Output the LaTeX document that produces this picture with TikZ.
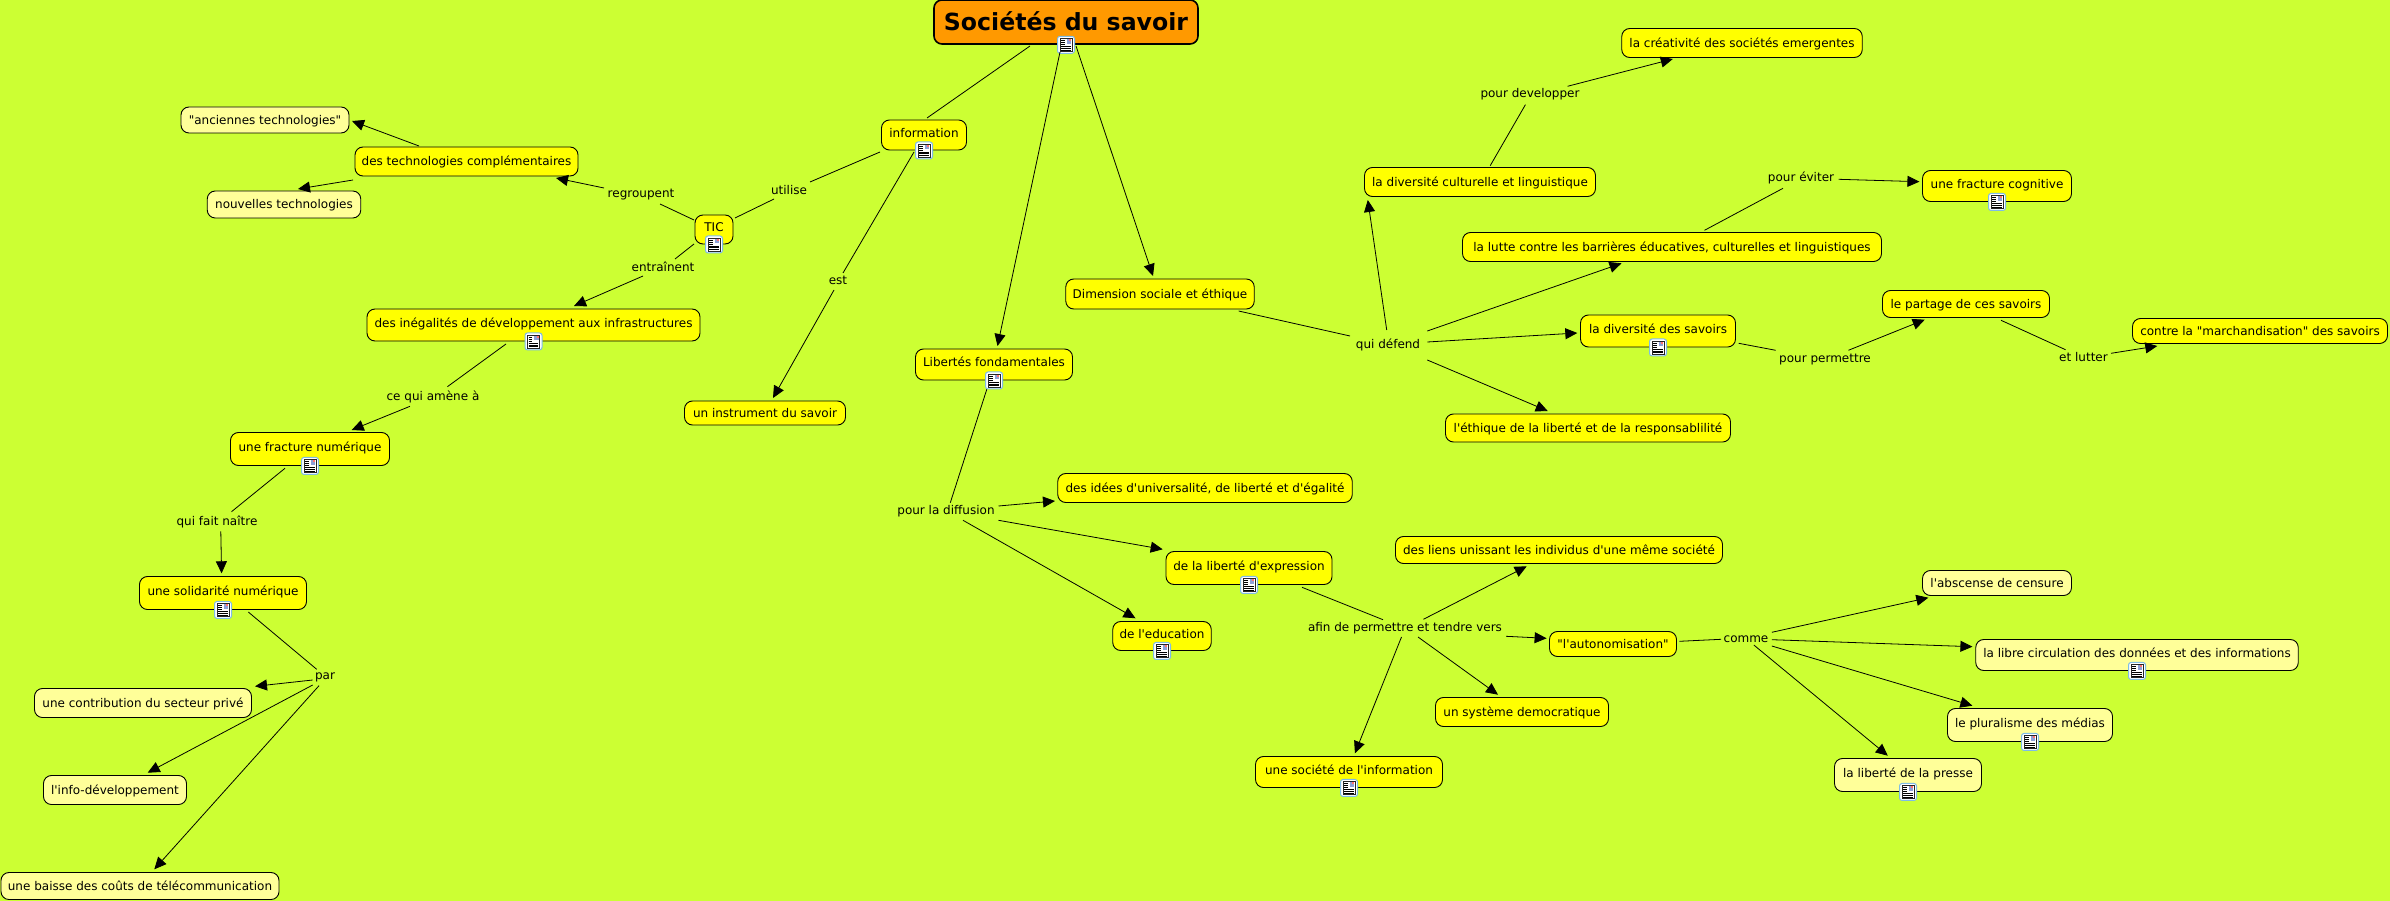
\documentclass[tikz,border=0pt]{standalone}
\usepackage{fontspec}
\setmainfont{DejaVu Sans}[Ligatures=TeXOff]
\usetikzlibrary{arrows.meta}
\definecolor{bgcol}{HTML}{CCFF33}
\definecolor{rootcol}{HTML}{FF9900}
\definecolor{conccol}{HTML}{FFFF00}
\definecolor{palecol}{HTML}{FFFF99}
\definecolor{iconblue}{HTML}{7FBCE6}
\definecolor{iconpic}{HTML}{8FA0D8}
\begin{document}
\begin{tikzpicture}[x=1pt,y=-1pt,>={Triangle[length=12pt,width=11pt]},
 txt/.style={inner sep=0pt,font=\fontsize{12}{14}\selectfont,text height=11pt,text depth=2pt},
 lab/.style={txt,text depth=1pt},
 cbox/.style 2 args={txt,draw=black,fill=conccol,line width=0.9pt,rounded corners=2.8mm,minimum width=#1pt,minimum height=#2pt},
 pbox/.style 2 args={cbox={#1}{#2},fill=palecol},
 doc/.style={text depth=6.5pt},
 lnk/.style={line width=0.8pt},
 arr/.style={lnk,->},
 docicon/.pic={
  \draw[fill=white,draw=iconblue,line width=1pt,rounded corners=2.5pt] (-8.5,-8.5) rectangle (8.5,8.5);
  \draw[fill=white,draw=black!85,line width=0.6pt] (-6,-6.5) rectangle (6,6.5);
  \fill[iconpic] (0.5,-5.5) rectangle (5,-1);
  \fill[red!55] (3,-5.5) rectangle (5,-3.5);
  \foreach \ly in {-4.5,-2.5,-0.5}{\draw[line width=0.5pt] (-4.8,\ly) -- (-1.5,\ly);}
  \foreach \ly in {1.5,3.3,5}{\draw[line width=0.5pt] (-4.8,\ly) -- (4.8,\ly);}
 }]
\useasboundingbox (0,0) rectangle (2390,901);
\fill[bgcol] (0,0) rectangle (2390,901);

\node[cbox={264}{44},fill=rootcol,line width=1.6pt,font=\fontsize{23.6}{28}\bfseries\selectfont,text height=18pt,text depth=0pt] (soc) at (1066,22) {Sociétés du savoir};

% left branch
\node[cbox={85}{30},doc] (info) at (924,135) {information};
\node[lab] (utilise) at (789,190) {utilise};
\node[cbox={38}{29},doc] (tic) at (714,229.5) {TIC};
\node[lab] (regroupent) at (641,193) {regroupent};
\node[cbox={223}{29}] (techcomp) at (466.5,161.5) {des technologies complémentaires};
\node[pbox={168}{26}] (anciennes) at (265,120) {"anciennes technologies"};
\node[pbox={153.5}{27}] (nouvelles) at (284,204.5) {nouvelles technologies};
\node[lab] (entrainent) at (663,267) {entraînent};
\node[cbox={333}{32},doc] (inegal) at (533.5,325) {des inégalités de développement aux infrastructures};
\node[lab] (cequi) at (433,395) {ce qui amène à};
\node[cbox={159}{33},doc] (fracnum) at (310,449) {une fracture numérique};
\node[lab] (quifait) at (217,520) {qui fait naître};
\node[cbox={167}{33},doc] (solidar) at (223,593) {une solidarité numérique};
\node[lab] (par) at (325,674) {par};
\node[pbox={217}{29}] (contrib) at (143,703) {une contribution du secteur privé};
\node[pbox={143}{29}] (infodev) at (115,790) {l'info-développement};
\node[pbox={278}{27}] (baisse) at (140,886) {une baisse des coûts de télécommunication};
\node[lab] (est) at (838,280) {est};
\node[cbox={161}{24}] (instrum) at (765,413) {un instrument du savoir};

% middle branch
\node[cbox={157}{31},doc] (libertes) at (994,364.5) {Libertés fondamentales};
\node[lab] (diffusion) at (946,509) {pour la diffusion};
\node[cbox={294.5}{29}] (idees) at (1205,488) {des idées d'universalité, de liberté et d'égalité};
\node[cbox={166}{33},doc] (expression) at (1249,568) {de la liberté d'expression};
\node[cbox={98.5}{29},doc] (education) at (1162,636) {de l'education};
\node[lab] (afin) at (1405,626) {afin de permettre et tendre vers};
\node[cbox={327}{27}] (liens) at (1559,550) {des liens unissant les individus d'une même société};
\node[cbox={127}{25}] (autonom) at (1613,644) {"l'autonomisation"};
\node[cbox={173}{29}] (systeme) at (1522,712) {un système democratique};
\node[cbox={187}{31},doc] (societe) at (1349,772) {une société de l'information};
\node[lab] (comme) at (1746,637) {comme};
\node[pbox={149}{25}] (abscense) at (1997,583) {l'abscense de censure};
\node[pbox={322.5}{31},doc] (libre) at (2137,655) {la libre circulation des données et des informations};
\node[pbox={165}{33},doc] (pluralisme) at (2030,725) {le pluralisme des médias};
\node[pbox={147}{33},doc] (presse) at (1908,775) {la liberté de la presse};

% right branch
\node[cbox={188.5}{30}] (dimension) at (1160,294) {Dimension sociale et éthique};
\node[lab] (defend) at (1388,343) {qui défend};
\node[cbox={231}{29}] (divcult) at (1480,182) {la diversité culturelle et linguistique};
\node[lab] (developper) at (1530,93) {pour developper};
\node[cbox={240.5}{29}] (creativite) at (1742,43) {la créativité des sociétés emergentes};
\node[cbox={419}{29}] (lutte) at (1672,247) {la lutte contre les barrières éducatives, culturelles et linguistiques};
\node[lab] (eviter) at (1801,177) {pour éviter};
\node[cbox={149}{31},doc] (cognitive) at (1997,186) {une fracture cognitive};
\node[cbox={155}{32},doc] (divsav) at (1658,331) {la diversité des savoirs};
\node[cbox={285}{28}] (ethique) at (1588,428) {l'éthique de la liberté et de la responsablilité};
\node[lab] (permettre) at (1825,357) {pour permettre};
\node[cbox={167}{27}] (partage) at (1966,304) {le partage de ces savoirs};
\node[lab] (lutter) at (2083.5,356) {et lutter};
\node[cbox={255}{25}] (marchand) at (2260,331) {contre la "marchandisation" des savoirs};

\foreach \n in {soc,info,tic,inegal,fracnum,solidar,libertes,expression,education,societe,libre,pluralisme,presse,cognitive,divsav}{
 \pic at (\n.south) {docicon};
}

\draw[lnk] ([shift={(-36,24)}]soc.center) -- ([shift={(3,-17)}]info.center);
\draw[arr] ([shift={(-6,30)}]soc.center) -- ([shift={(3.5,-18.5)}]libertes.center);
\draw[arr] ([shift={(10,24)}]soc.center) -- ([shift={(-7,-18)}]dimension.center);
\draw[lnk] ([shift={(-44,17)}]info.center) -- ([shift={(21,-8)}]utilise.center);
\draw[lnk] ([shift={(-15,9)}]utilise.center) -- ([shift={(21,-11.5)}]tic.center);
\draw[lnk] ([shift={(-20,-9.5)}]tic.center) -- ([shift={(19,11)}]regroupent.center);
\draw[arr] ([shift={(-37,-5)}]regroupent.center) -- ([shift={(89.5,16.5)}]techcomp.center);
\draw[arr] ([shift={(-47.5,-15.5)}]techcomp.center) -- ([shift={(87,1)}]anciennes.center);
\draw[arr] ([shift={(-113.5,18.5)}]techcomp.center) -- ([shift={(14,-15.5)}]nouvelles.center);
\draw[lnk] ([shift={(-20,14.5)}]tic.center) -- ([shift={(12,-8)}]entrainent.center);
\draw[arr] ([shift={(-20,9)}]entrainent.center) -- ([shift={(40.5,-19)}]inegal.center);
\draw[lnk] ([shift={(-27.5,19)}]inegal.center) -- ([shift={(14.4,-8.3)}]cequi.center);
\draw[arr] ([shift={(-23,11.3)}]cequi.center) -- ([shift={(41.7,-19)}]fracnum.center);
\draw[lnk] ([shift={(-25,19.3)}]fracnum.center) -- ([shift={(14.5,-8.3)}]quifait.center);
\draw[arr] ([shift={(3.8,11.3)}]quifait.center) -- ([shift={(-1.4,-19.7)}]solidar.center);
\draw[lnk] ([shift={(25.3,19)}]solidar.center) -- ([shift={(-8.3,-4.7)}]par.center);
\draw[arr] ([shift={(-12.3,6)}]par.center) -- ([shift={(112,-16.7)}]contrib.center);
\draw[arr] ([shift={(-12.3,11)}]par.center) -- ([shift={(32.7,-17.3)}]infodev.center);
\draw[arr] ([shift={(-6,11.7)}]par.center) -- ([shift={(14.3,-16.7)}]baisse.center);
\draw[lnk] ([shift={(-10,17)}]info.center) -- ([shift={(5,-7)}]est.center);
\draw[arr] ([shift={(-4,10)}]est.center) -- ([shift={(8,-15)}]instrum.center);
\draw[lnk] ([shift={(-7.2,24.8)}]libertes.center) -- ([shift={(4.3,-6.3)}]diffusion.center);
\draw[arr] ([shift={(52.5,-3)}]diffusion.center) -- ([shift={(-150,13)}]idees.center);
\draw[arr] ([shift={(52.5,11.3)}]diffusion.center) -- ([shift={(-86.3,-18.7)}]expression.center);
\draw[arr] ([shift={(17,11.3)}]diffusion.center) -- ([shift={(-26.5,-17.7)}]education.center);
\draw[lnk] ([shift={(53,19.3)}]expression.center) -- ([shift={(-22,-6.3)}]afin.center);
\draw[arr] ([shift={(18.4,-6.7)}]afin.center) -- ([shift={(-32.3,16.3)}]liens.center);
\draw[arr] ([shift={(101,10.3)}]afin.center) -- ([shift={(-66.4,-5.7)}]autonom.center);
\draw[arr] ([shift={(13,11)}]afin.center) -- ([shift={(-24,-17.3)}]systeme.center);
\draw[arr] ([shift={(-3.5,11)}]afin.center) -- ([shift={(5.9,-18.7)}]societe.center);
\draw[lnk] ([shift={(66.4,-2.7)}]autonom.center) -- ([shift={(-25,2.3)}]comme.center);
\draw[arr] ([shift={(25.8,-4.7)}]comme.center) -- ([shift={(-68.7,14.7)}]abscense.center);
\draw[arr] ([shift={(25.8,2.7)}]comme.center) -- ([shift={(-164.6,-8.3)}]libre.center);
\draw[arr] ([shift={(25.8,9)}]comme.center) -- ([shift={(-57.6,-19.3)}]pluralisme.center);
\draw[arr] ([shift={(7.8,8)}]comme.center) -- ([shift={(-20.2,-19.3)}]presse.center);
\draw[lnk] ([shift={(78.6,17)}]dimension.center) -- ([shift={(-38,-7)}]defend.center);
\draw[arr] ([shift={(-1.3,-13)}]defend.center) -- ([shift={(-112.2,18)}]divcult.center);
\draw[arr] ([shift={(39.3,-12)}]defend.center) -- ([shift={(-50.5,16.3)}]lutte.center);
\draw[arr] ([shift={(39.3,-1)}]defend.center) -- ([shift={(-80.7,2)}]divsav.center);
\draw[arr] ([shift={(39.3,17)}]defend.center) -- ([shift={(-40.3,-17)}]ethique.center);
\draw[lnk] ([shift={(10.2,-16.3)}]divcult.center) -- ([shift={(-4.6,11.7)}]developper.center);
\draw[arr] ([shift={(37.5,-6.7)}]developper.center) -- ([shift={(-69.2,16)}]creativite.center);
\draw[lnk] ([shift={(32.5,-16.7)}]lutte.center) -- ([shift={(-18,11.3)}]eviter.center);
\draw[arr] ([shift={(37.6,2.3)}]eviter.center) -- ([shift={(-77.6,-4.3)}]cognitive.center);
\draw[lnk] ([shift={(80.7,12.3)}]divsav.center) -- ([shift={(-49.3,-6.7)}]permettre.center);
\draw[arr] ([shift={(23.4,-6.7)}]permettre.center) -- ([shift={(-41.3,15.7)}]partage.center);
\draw[lnk] ([shift={(35,16.3)}]partage.center) -- ([shift={(-18,-6.3)}]lutter.center);
\draw[arr] ([shift={(27.5,-2.7)}]lutter.center) -- ([shift={(-102.7,15)}]marchand.center);
\end{tikzpicture}
\end{document}
